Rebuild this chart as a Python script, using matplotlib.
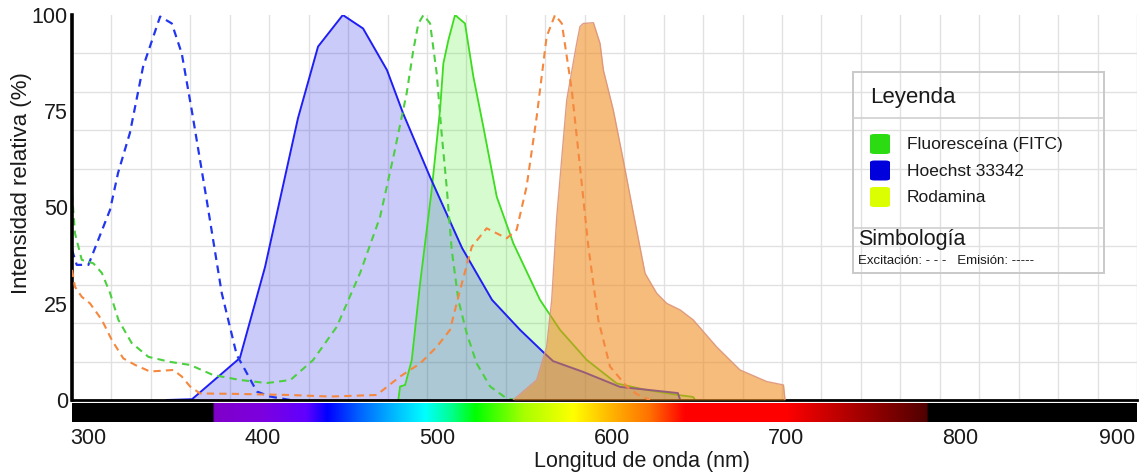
import numpy as np
import matplotlib
matplotlib.use("Agg")
import matplotlib.pyplot as plt
from matplotlib.colors import LinearSegmentedColormap
from matplotlib.patches import FancyBboxPatch, Rectangle
from matplotlib.lines import Line2D

plt.rcParams['font.family'] = ['Liberation Sans', 'DejaVu Sans']

# ---------------- data (wavelength nm, relative intensity %) ----------------
hoechst_em_x = [345, 359.6, 387, 401.4, 420.3, 431.8, 446, 457.6, 471.3, 480.5, 496,
                514.3, 531.5, 547.6, 560.7, 566.5, 583.7, 604.9, 638, 639.3]
hoechst_em_y = [0, 0.2, 10.9, 34.5, 73.2, 91.8, 100, 96.5, 85.7, 74.5, 57.9,
                39.5, 26, 18.2, 12.5, 10.1, 7.3, 3.4, 1.8, 0]

hoechst_ex_x = [290.8, 293.5, 300.2, 312.6, 317.2, 324, 331.5, 341.3, 348, 353.7,
                359.4, 368, 376.6, 385.2, 390, 396.7, 404.3, 415.8]
hoechst_ex_y = [39, 35.1, 35.1, 49.4, 59, 69.4, 86.5, 99.6, 97.8, 90,
                75.3, 51.9, 27.8, 11.7, 7.8, 2.2, 0.9, 0]

fitc_ex_x = [290.8, 292.5, 296.4, 303, 307.9, 312.6, 317.4, 325, 334.6, 347, 358.5,
             371.6, 387.1, 402.4, 416, 429, 442.5, 455.9, 467.3, 475, 482.6, 486.4,
             489.3, 492.2, 496, 499.8, 502.6, 505.5, 508.4, 512.2, 517, 522.7, 530.4,
             539.9, 545]
fitc_ex_y = [53.7, 43.3, 36.4, 35.5, 33, 27.8, 20.8, 14.8, 11.2, 9.9, 9.1,
             6.5, 5.2, 4.4, 5.2, 10.4, 19, 33, 47.5, 63.2, 79.7, 90.9,
             97.8, 100, 97.8, 84.8, 69.3, 55.4, 39, 26, 17.3, 9.5, 3.5,
             0.4, 0]

fitc_em_x = [477.8, 478.8, 481.7, 485.5, 490.3, 496.9, 501.7, 503.6, 506.5, 510.3,
             516, 520.8, 526.5, 534.2, 543.7, 559, 570.5, 585.8, 603, 620.1, 638.1,
             646.7, 647.9]
fitc_em_y = [0, 3.5, 3.9, 10.4, 30.4, 54.5, 75.3, 87.4, 93.5, 100,
             97.8, 84, 71, 52.8, 40.7, 26, 18.2, 10.4, 4.3, 2.6, 1.3,
             0.8, 0]

rhod_ex_x = [290.8, 292.5, 296.4, 301.1, 307.9, 313.6, 320.2, 327, 335.5, 348.9,
             353.7, 358.5, 364.2, 383.1, 415.8, 438.7, 465.4, 478.8, 490.3, 499.8,
             507.4, 513.2, 519.9, 528.4, 539.9, 545.6, 551.3, 557.1, 562.8, 567.6,
             571.5, 577.2, 581.9, 586.7, 592.4, 599.1, 608.7, 614.5, 622]
rhod_ex_y = [33.8, 29.4, 26.8, 25.1, 20.8, 15.6, 10.8, 9.1, 7.4, 7.8,
             6.1, 3.5, 1.7, 1.6, 1.3, 0.9, 1.3, 6.1, 9.5, 13.8,
             18.2, 28.6, 39.8, 44.6, 42, 44.2, 55.4, 73.6, 94.4, 100,
             97.8, 80.5, 60.6, 39.8, 20.8, 8.7, 3.5, 1.5, 0]

rhod_em_x = [543.7, 557.1, 562.8, 565.7, 568.6, 574.3, 580, 581.9, 583.8, 589.6,
             593.4, 595.3, 601, 606.7, 612.5, 619.2, 625.9, 631.6, 639.3, 646.8,
             660.2, 673.6, 688.9, 698.5, 699.4]
rhod_em_y = [0, 5.2, 13.8, 26, 47.6, 77.9, 92.6, 97, 97.8, 98,
             92.6, 85.7, 75.3, 62.3, 48.5, 32.9, 27.7, 25.1, 23.4, 20.8,
             13.8, 7.8, 4.8, 3.9, 0]

x_ticks = [300, 400, 500, 600, 700, 800, 900]
y_ticks = [0, 25, 50, 75, 100]

legend_labels = ['Fluoresceína (FITC)', 'Hoechst 33342', 'Rodamina']
legend_colors = ['#2bdc12', '#0000dc', '#dcff00']

# visible spectrum colour stops (nm, colour)
spec_nm = [290.8, 371.5, 372, 400, 425, 437, 455, 475, 493, 508, 522, 550, 578,
           600, 622, 642, 700, 781, 781.5, 901.1]
spec_col = ['#000000', '#000000', '#8000c8', '#7c00e0', '#6000ff', '#0000ff',
            '#0060ff', '#00b8ff', '#00ffff', '#00ff90', '#00ff00', '#a8ff00',
            '#ffff00', '#ffb400', '#ff7000', '#ff0000', '#ff0000', '#500000',
            '#000000', '#000000']

XMIN, XMAX = 290.8, 901.1

# ---------------- figure ----------------
W, H = 1143, 472
fig = plt.figure(figsize=(W / 100, H / 100), dpi=100)
ax = fig.add_axes([72 / W, 1 - 400 / H, 1065 / W, 385 / H])
bar = fig.add_axes([72 / W, 1 - 422 / H, 1065 / W, 19 / H], sharex=ax)

ax.set_xlim(XMIN, XMAX)
ax.set_ylim(0, 100)

# grid
ax.set_xticks(np.linspace(XMIN, XMAX, 28), minor=True)
ax.set_yticks(np.arange(0, 101, 10), minor=True)
ax.grid(which='minor', color='#e1e1e1', lw=1.0, zorder=0)
ax.grid(which='major', visible=False)
ax.set_axisbelow(True)
ax.set_yticks(y_ticks)
ax.set_yticklabels([str(v) for v in y_ticks])
ax.tick_params(axis='both', which='both', length=0)
ax.tick_params(axis='y', labelsize=15.5, pad=3, labelcolor='#1a1a1a')
ax.tick_params(axis='x', which='both', labelbottom=False)

for s in ['top', 'right']:
    ax.spines[s].set_visible(False)
ax.spines['left'].set_linewidth(2.6)
ax.spines['bottom'].set_linewidth(2.0)
ax.spines['left'].set_color('black')
ax.spines['bottom'].set_color('black')

# fills
ax.fill_between(fitc_em_x, fitc_em_y, 0, color='#33ee11', alpha=0.2, lw=0, zorder=1)
ax.fill_between(hoechst_em_x, hoechst_em_y, 0, color='#1414e6', alpha=0.22, lw=0, zorder=1.1)

# lines
ax.plot(fitc_em_x, fitc_em_y, color='#3cdc1e', lw=1.3, zorder=2)
ax.plot(hoechst_em_x, hoechst_em_y, color='#1e1ef5', lw=1.4, zorder=2)
ax.plot(hoechst_ex_x, hoechst_ex_y, color='#2236f0', lw=1.6, ls=(0, (3.5, 2.5)), zorder=2)
ax.plot(fitc_ex_x, fitc_ex_y, color='#4cd040', lw=1.5, ls=(0, (3.5, 2.5)), zorder=2)

# rhodamine emission on top
ax.fill_between(rhod_em_x, rhod_em_y, 0, color='#f08c1e', alpha=0.58, lw=0, zorder=3)
ax.plot(rhod_em_x, rhod_em_y, color='#dd9477', lw=1.0, alpha=0.9, zorder=3.1)
ax.plot(rhod_ex_x, rhod_ex_y, color='#f5883e', lw=1.5, ls=(0, (3.5, 2.5)), zorder=4)

# ---------------- spectrum bar ----------------
cmap = LinearSegmentedColormap.from_list(
    'spec', [((n - XMIN) / (XMAX - XMIN), c) for n, c in zip(spec_nm, spec_col)], N=1024)
grad = np.linspace(0, 1, 1024).reshape(1, -1)
bar.imshow(grad, cmap=cmap, aspect='auto', extent=[XMIN, XMAX, 0, 1], interpolation='bilinear')
bar.set_ylim(0, 1)
bar.set_xlim(XMIN, XMAX)
for s in bar.spines.values():
    s.set_visible(False)
bar.set_yticks([])
bar.set_xticks(x_ticks)
bar.set_xticklabels([str(v) for v in x_ticks])
bar.tick_params(axis='x', which='both', length=0)
bar.tick_params(axis='x', which='major', pad=4, labelsize=15.5, labelcolor='#1a1a1a')
bar.get_xticklabels()[-1].set_horizontalalignment('right')

# axis labels
fig.text(642 / W, 1 - 467 / H, 'Longitud de onda (nm)', ha='center', va='baseline',
         fontsize=15.5, color='#1a1a1a')
fig.text(22 / W, 1 - 183 / H, 'Intensidad relativa (%)', ha='center', va='center',
         rotation=90, fontsize=16, color='#1a1a1a')

# ---------------- legend box (transparent, grid shows through) ----------------
def fx(x):
    return x / W

def fy(y):
    return 1 - y / H

box = Rectangle((fx(853), fy(273)), fx(1104) - fx(853), fy(72) - fy(273),
                transform=fig.transFigure, fill=False, edgecolor='#c9c9c9', lw=1.4)
fig.add_artist(box)
for yy in (118, 228):
    fig.add_artist(Line2D([fx(853), fx(1104)], [fy(yy), fy(yy)], transform=fig.transFigure,
                          color='#d0d0d0', lw=1.2))

fig.text(fx(870), fy(98), 'Leyenda', ha='left', va='center', fontsize=16, color='#1a1a1a')
for i, (lab, col) in enumerate(zip(legend_labels, legend_colors)):
    yc = 144 + i * 26.5
    sq = FancyBboxPatch((fx(870), fy(yc + 10)), fx(890) - fx(870), fy(yc - 10) - fy(yc + 10),
                        boxstyle='round,pad=0,rounding_size=0.004', transform=fig.transFigure,
                        facecolor=col, edgecolor='none')
    fig.add_artist(sq)
    fig.text(fx(907), fy(yc + 1), lab, ha='left', va='center', fontsize=12.5, color='#1a1a1a')

fig.text(fx(858), fy(240), 'Simbología', ha='left', va='center', fontsize=15.5, color='#1a1a1a')
fig.text(fx(858), fy(261), 'Excitación: - - -   Emisión: -----', ha='left', va='center',
         fontsize=9.5, color='#1a1a1a')

fig.savefig('out.png', dpi=100)
